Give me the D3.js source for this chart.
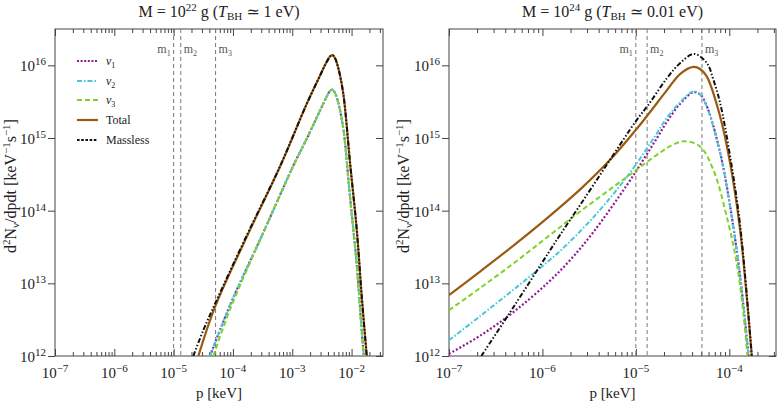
<!DOCTYPE html>
<html>
<head>
<meta charset="utf-8">
<script src="https://cdn.jsdelivr.net/npm/d3@7"></script>
<style>
body { margin: 0; background: #fff; }
text { font-family: "Liberation Serif", "DejaVu Serif", serif; fill: #222; }
</style>
</head>
<body>
<div id="chart"></div>
<script>
// values, stored as log10 p [keV] and log10 d2N/dpdt [keV^-1 s^-1]

// left panel, M = 1e22 g
var leftTotalP = [-4.583, -4.302, -3.767, -3.206, -2.756, -2.531, -2.45, -2.40, -2.36, -2.32, -2.28, -2.22, -2.138, -2.025, -1.912, -1.828, -1.744];
var leftTotalN = [12.0, 12.676, 13.641, 14.607, 15.47, 15.86, 16.0, 16.075, 16.125, 16.14, 16.10, 15.95, 15.60, 14.654, 13.734, 12.814, 12.0];
var leftMasslessP = [-4.668, -4.5, -4.302, -3.767, -3.206, -2.756, -2.531, -2.45, -2.40, -2.36, -2.32, -2.28, -2.22, -2.138, -2.025, -1.912, -1.828, -1.744];
var leftMasslessN = [12.0, 12.354, 12.72, 13.66, 14.61, 15.47, 15.86, 16.0, 16.075, 16.125, 16.14, 16.10, 15.95, 15.60, 14.654, 13.734, 12.814, 12.0];
var leftNu12P = [-4.386, -4.049, -3.487, -2.981, -2.756, -2.531, -2.45, -2.40, -2.36, -2.32, -2.28, -2.22, -2.138, -2.025, -1.912, -1.828, -1.744];
var leftNu12N = [12.0, 12.70, 13.70, 14.62, 14.99, 15.38, 15.52, 15.60, 15.65, 15.665, 15.62, 15.47, 15.12, 14.18, 13.25, 12.34, 11.52];
var leftNu3P = [-4.33, -4.049, -3.487, -2.981, -2.756, -2.531, -2.45, -2.40, -2.36, -2.32, -2.28, -2.22, -2.138, -2.025, -1.912, -1.828, -1.744];
var leftNu3N = [12.0, 12.64, 13.70, 14.62, 14.99, 15.38, 15.52, 15.60, 15.65, 15.665, 15.62, 15.47, 15.12, 14.18, 13.25, 12.34, 11.52];

// right panel, M = 1e24 g
var rightTotalP = [-7, -6.654, -6.297, -5.94, -5.584, -5.276, -4.955, -4.669, -4.527, -4.384, -4.313, -4.241, -4.098, -3.991, -3.884, -3.813, -3.759];
var rightTotalN = [12.837, 13.176, 13.533, 13.908, 14.307, 14.70, 15.183, 15.655, 15.88, 15.978, 15.95, 15.848, 15.297, 14.654, 13.734, 12.814, 12.0];
var rightMasslessP = [-6.654, -6.297, -5.94, -5.812, -5.584, -5.276, -4.99, -4.87, -4.669, -4.527, -4.377, -4.241, -4.17, -4.098, -3.991, -3.884, -3.759];
var rightMasslessN = [12.0, 12.699, 13.412, 13.665, 14.102, 14.70, 15.25, 15.45, 15.82, 16.03, 16.157, 16.033, 15.80, 15.481, 14.745, 13.80, 12.0];
var rightNu1P = [-7, -6.654, -6.297, -5.94, -5.705, -5.455, -5.097, -4.92, -4.776, -4.669, -4.527, -4.384, -4.313, -4.241, -4.098, -3.991, -3.884, -3.793];
var rightNu1N = [12.03, 12.29, 12.618, 13.011, 13.317, 13.705, 14.35, 14.70, 14.995, 15.22, 15.47, 15.63, 15.60, 15.44, 14.80, 14.06, 13.10, 12.0];
var rightNu2P = [-7, -6.654, -6.297, -5.94, -5.812, -5.455, -5.097, -4.92, -4.776, -4.669, -4.527, -4.384, -4.313, -4.241, -4.098, -3.991, -3.884, -3.795];
var rightNu2N = [12.216, 12.562, 12.926, 13.301, 13.444, 13.908, 14.463, 14.782, 15.063, 15.277, 15.49, 15.641, 15.60, 15.434, 14.792, 14.055, 13.09, 12.0];
var rightNu3P = [-7, -6.654, -6.297, -5.94, -5.584, -5.097, -4.74, -4.6, -4.474, -4.313, -4.17, -4.027, -3.92, -3.849, -3.806];
var rightNu3N = [12.63, 12.948, 13.287, 13.644, 14.0, 14.463, 14.80, 14.91, 14.955, 14.883, 14.561, 13.917, 13.274, 12.585, 12.0];

// neutrino masses (vertical lines), keV
var massValues = [1e-5, 1.32e-5, 5.1e-5];
var massNames = ["1", "2", "3"];

var xTickExps = [-7, -6, -5, -4, -3, -2];
var yTickExps = [12, 13, 14, 15, 16];
var legendNames = ["1", "2", "3", "Total", "Massless"];

var W = 780, H = 405;
var plotTop = 29, plotBottom = 356;

var styles = {
    nu1: {color: '#8e1b96', dash: '2,2', width: 2.2, legendDash: '2,1.6'},
    nu2: {color: '#45c8d8', dash: '5,2,1.5,2', width: 2, legendDash: '5,2,1.5,2'},
    nu3: {color: '#7fd12b', dash: '5,3', width: 2, legendDash: '5,3'},
    total: {color: '#9b5a12', dash: null, width: 2.2, legendDash: null},
    massless: {color: '#111', dash: '5,2,1.5,2,1.5,2', width: 2, legendDash: '2.6,1.6'}
};

function pairs(ps, ns) {
    return ps.map(function(p, i) { return {p: Math.pow(10, p), n: Math.pow(10, ns[i])}; });
}

var panels = [
    {x0: 55, x1: 383, xmax: Math.pow(10, -1.47), title: ['22', '1'],
     series: [
        {key: 'nu1', data: pairs(leftNu12P, leftNu12N)},
        {key: 'nu2', data: pairs(leftNu12P, leftNu12N)},
        {key: 'nu3', data: pairs(leftNu3P, leftNu3N)},
        {key: 'total', data: pairs(leftTotalP, leftTotalN)},
        {key: 'massless', data: pairs(leftMasslessP, leftMasslessN)}
     ], legend: true, ylabelX: 16},
    {x0: 449, x1: 776, xmax: Math.pow(10, -3.5), title: ['24', '0.01'],
     series: [
        {key: 'nu1', data: pairs(rightNu1P, rightNu1N)},
        {key: 'nu2', data: pairs(rightNu2P, rightNu2N)},
        {key: 'nu3', data: pairs(rightNu3P, rightNu3N)},
        {key: 'total', data: pairs(rightTotalP, rightTotalN)},
        {key: 'massless', data: pairs(rightMasslessP, rightMasslessN)}
     ], legend: false, ylabelX: 409}
];

var svg = d3.select('#chart').append('svg')
    .attr('width', W).attr('height', H)
    .style('background', '#fff');

function pow10(sel, exp, small) {
    sel.append('tspan').text('10');
    sel.append('tspan').attr('dy', -6).style('font-size', small + 'px').text(exp);
}

panels.forEach(function(pn, pi) {
    var x = d3.scaleLog().domain([1e-7, pn.xmax]).range([pn.x0, pn.x1]);
    var y = d3.scaleLog().domain([1e12, Math.pow(10, 16.5)]).range([plotBottom, plotTop]);
    var g = svg.append('g');

    var clipId = 'clip' + pi;
    svg.append('clipPath').attr('id', clipId).append('rect')
        .attr('x', pn.x0).attr('y', plotTop)
        .attr('width', pn.x1 - pn.x0).attr('height', plotBottom - plotTop);

    // minor x ticks
    var minors = [];
    for (var e = -8; e <= -1; e++) {
        for (var k = 2; k <= 9; k++) {
            var v = k * Math.pow(10, e);
            if (v > 1e-7 && v < pn.xmax) minors.push(v);
        }
    }
    var majors = xTickExps.map(function(e) { return Math.pow(10, e); })
        .filter(function(v) { return v <= pn.xmax; });

    function styleAxis(a) {
        a.select('.domain').remove();
        a.selectAll('line').attr('stroke', '#444');
        a.selectAll('text').remove();
    }
    g.append('g').attr('transform', 'translate(0,' + plotBottom + ')')
        .call(d3.axisBottom(x).tickValues(majors).tickSize(-7).tickFormat('')).call(styleAxis);
    g.append('g').attr('transform', 'translate(0,' + plotBottom + ')')
        .call(d3.axisBottom(x).tickValues(minors).tickSize(-4).tickFormat('')).call(styleAxis);
    g.append('g').attr('transform', 'translate(0,' + plotTop + ')')
        .call(d3.axisTop(x).tickValues(majors).tickSize(-7).tickFormat('')).call(styleAxis);
    g.append('g').attr('transform', 'translate(0,' + plotTop + ')')
        .call(d3.axisTop(x).tickValues(minors).tickSize(-4).tickFormat('')).call(styleAxis);

    var yMajors = yTickExps.map(function(e) { return Math.pow(10, e); });
    g.append('g').attr('transform', 'translate(' + pn.x0 + ',0)')
        .call(d3.axisLeft(y).tickValues(yMajors).tickSize(7).tickFormat('')).call(styleAxis);
    g.append('g').attr('transform', 'translate(' + pn.x1 + ',0)')
        .call(d3.axisRight(y).tickValues(yMajors).tickSize(-7).tickFormat('')).call(styleAxis);

    // frame
    g.append('rect')
        .attr('x', pn.x0).attr('y', plotTop)
        .attr('width', pn.x1 - pn.x0).attr('height', plotBottom - plotTop)
        .attr('fill', 'none').attr('stroke', '#444').attr('stroke-width', 1);

    // tick labels
    xTickExps.forEach(function(e) {
        var v = Math.pow(10, e);
        if (v > pn.xmax) return;
        var t = g.append('text').attr('x', x(v)).attr('y', plotBottom + 22)
            .attr('text-anchor', 'middle').style('font-size', '15px');
        pow10(t, '\u2212' + Math.abs(e), 11);
    });
    yTickExps.forEach(function(e) {
        var t = g.append('text').attr('x', pn.x0 - 9).attr('y', y(Math.pow(10, e)) + 6)
            .attr('text-anchor', 'end').style('font-size', '15px');
        pow10(t, String(e), 11);
    });

    // mass lines
    massValues.forEach(function(m, i) {
        g.append('line')
            .attr('x1', x(m)).attr('x2', x(m)).attr('y1', plotTop).attr('y2', plotBottom)
            .attr('stroke', '#777').attr('stroke-width', 1).attr('stroke-dasharray', '4,3');
        var lab = g.append('text')
            .attr('x', i === 0 ? x(m) - 3 : x(m) + 3).attr('y', 53)
            .attr('text-anchor', i === 0 ? 'end' : 'start')
            .style('font-size', '12px').style('fill', '#555');
        lab.append('tspan').text('m');
        lab.append('tspan').attr('dy', 3).style('font-size', '8px').text(massNames[i]);
    });

    // curves
    var line = d3.line()
        .x(function(d) { return x(d.p); })
        .y(function(d) { return y(d.n); })
        .curve(d3.curveCatmullRom.alpha(0.5));
    var curves = g.append('g').attr('clip-path', 'url(#' + clipId + ')');
    pn.series.forEach(function(s) {
        var st = styles[s.key];
        curves.append('path')
            .datum(s.data)
            .attr('d', line)
            .attr('fill', 'none')
            .attr('stroke', st.color)
            .attr('stroke-width', st.width)
            .attr('stroke-dasharray', st.dash);
    });

    // title
    var cx = (pn.x0 + pn.x1) / 2;
    var tt = g.append('text').attr('x', cx).attr('y', 17)
        .attr('text-anchor', 'middle').style('font-size', '16px');
    tt.append('tspan').text('M = 10');
    tt.append('tspan').attr('dy', -6).style('font-size', '11px').text(pn.title[0]);
    tt.append('tspan').attr('dy', 6).text(' g (');
    tt.append('tspan').style('font-style', 'italic').text('T');
    tt.append('tspan').attr('dy', 3).style('font-size', '11px').text('BH');
    tt.append('tspan').attr('dy', -3).text(' \u2243 ' + pn.title[1] + ' eV)');

    // x label
    g.append('text').attr('x', cx).attr('y', 398)
        .attr('text-anchor', 'middle').style('font-size', '15px').text('p [keV]');

    // y label
    var yl = g.append('text')
        .attr('transform', 'translate(' + pn.ylabelX + ',186) rotate(-90)')
        .attr('text-anchor', 'middle').style('font-size', '16px');
    yl.append('tspan').text('d');
    yl.append('tspan').attr('dy', -6).style('font-size', '11px').text('2');
    yl.append('tspan').attr('dy', 6).text('N');
    yl.append('tspan').attr('dy', 3).style('font-size', '11px').text('\u03bd');
    yl.append('tspan').attr('dy', -3).text('/dpdt [keV');
    yl.append('tspan').attr('dy', -6).style('font-size', '11px').text('\u22121');
    yl.append('tspan').attr('dy', 6).text('s');
    yl.append('tspan').attr('dy', -6).style('font-size', '11px').text('\u22121');
    yl.append('tspan').attr('dy', 6).text(']');

    // legend
    if (pn.legend) {
        var keys = ['nu1', 'nu2', 'nu3', 'total', 'massless'];
        var ly = [61, 81, 100, 120, 140];
        keys.forEach(function(k, i) {
            var st = styles[k];
            g.append('line')
                .attr('x1', 77).attr('x2', 98).attr('y1', ly[i]).attr('y2', ly[i])
                .attr('stroke', st.color).attr('stroke-width', st.width)
                .attr('stroke-dasharray', st.legendDash);
            var t = g.append('text').attr('x', 106).attr('y', ly[i] + 4)
                .style('font-size', '12px');
            if (i < 3) {
                t.append('tspan').style('font-style', 'italic').text('\u03bd');
                t.append('tspan').attr('dy', 3).style('font-size', '8px').text(legendNames[i]);
            } else {
                t.text(legendNames[i]);
            }
        });
    }
});
</script>
</body>
</html>
